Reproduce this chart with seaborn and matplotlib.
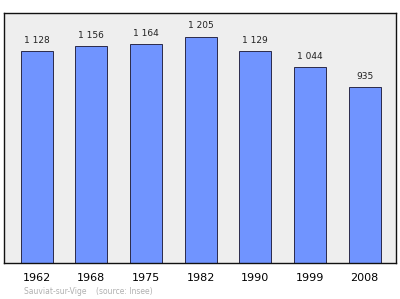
import matplotlib
matplotlib.use("Agg")
import matplotlib.pyplot as plt
import seaborn as sns
import pandas as pd

years = ["1962", "1968", "1975", "1982", "1990", "1999", "2008"]
population = [1128, 1156, 1164, 1205, 1129, 1044, 935]
labels = ["1 128", "1 156", "1 164", "1 205", "1 129", "1 044", "935"]
source_text = "Sauviat-sur-Vige    (source: Insee)"

df = pd.DataFrame({"year": years, "pop": population})

sns.set_style("white")
plt.rcParams["font.family"] = ["DejaVu Sans"]

fig = plt.figure(figsize=(4.0, 2.99), dpi=100)
ax = fig.add_axes([4.3 / 400, 1 - 263 / 299, (395.7 - 4.3) / 400, (263 - 13.3) / 299])
ax.set_facecolor("#eeeeee")

sns.barplot(data=df, x="year", y="pop", ax=ax, color="#7094ff", saturation=1,
            width=0.585, edgecolor="#2a2a4a", linewidth=0.7)

ax.set_xlim(-0.59, 6.57)
ax.set_ylim(0, 1329)
for i, (v, lab) in enumerate(zip(population, labels)):
    ax.annotate(lab, (i, v), xytext=(0, 4.5), textcoords="offset points",
                ha="center", va="bottom", fontsize=6.5, color="#222222")

ax.set_yticks([])
ax.set_xlabel("")
ax.set_ylabel("")
ax.tick_params(axis="x", length=0, pad=7, labelsize=8, colors="black")
for s in ax.spines.values():
    s.set_visible(True)
    s.set_color("#111111")
    s.set_linewidth(1.0)

fig.text(24 / 400, 1 - 291 / 299, source_text, fontsize=5.5, color="#b0b0b0",
         ha="left", va="center")

fig.savefig("out.png", dpi=100, facecolor="white")
